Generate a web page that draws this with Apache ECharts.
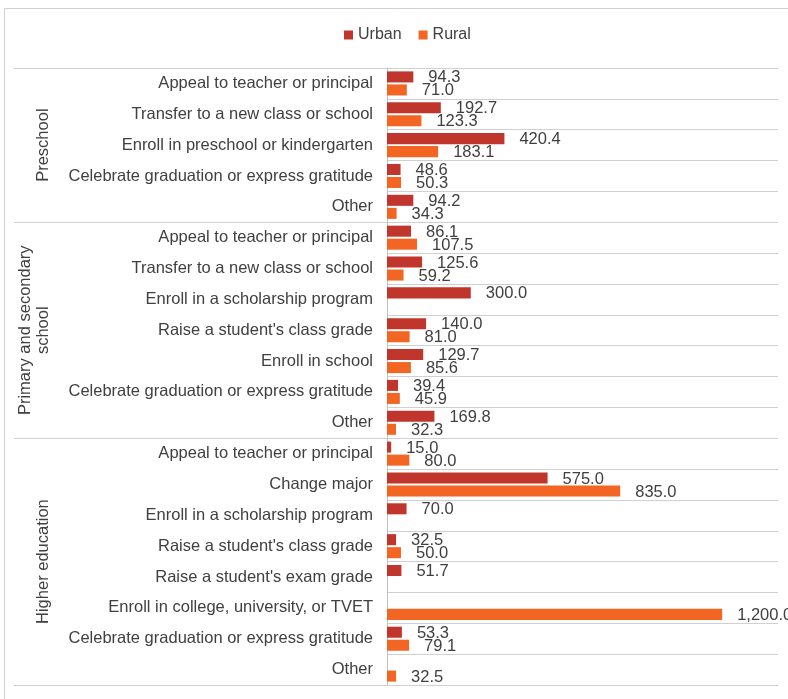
<!DOCTYPE html>
<html>
<head>
<meta charset="utf-8">
<title>Urban and Rural</title>
<script src="https://cdn.jsdelivr.net/npm/echarts@6/dist/echarts.min.js"></script>
<style>
  html, body { margin: 0; padding: 0; background: #ffffff; }
  #chart { width: 788px; height: 699px; }
</style>
</head>
<body>
<div id="chart"></div>
<script>
// Group names (outer level of the category axis)
const groupNames = ['Preschool', 'Primary and secondary\nschool', 'Higher education'];

// Categories per group (inner level)
const preschoolCats = [
  'Appeal to teacher or principal',
  'Transfer to a new class or school',
  'Enroll in preschool or kindergarten',
  'Celebrate graduation or express gratitude',
  'Other'
];
const schoolCats = [
  'Appeal to teacher or principal',
  'Transfer to a new class or school',
  'Enroll in a scholarship program',
  "Raise a student's class grade",
  'Enroll in school',
  'Celebrate graduation or express gratitude',
  'Other'
];
const higherCats = [
  'Appeal to teacher or principal',
  'Change major',
  'Enroll in a scholarship program',
  "Raise a student's class grade",
  "Raise a student's exam grade",
  'Enroll in college, university, or TVET',
  'Celebrate graduation or express gratitude',
  'Other'
];

// Values per group (null = no value reported)
const preschoolUrban = [94.3, 192.7, 420.4, 48.6, 94.2];
const preschoolRural = [71.0, 123.3, 183.1, 50.3, 34.3];
const schoolUrban = [86.1, 125.6, 300.0, 140.0, 129.7, 39.4, 169.8];
const schoolRural = [107.5, 59.2, null, 81.0, 85.6, 45.9, 32.3];
const higherUrban = [15.0, 575.0, 70.0, 32.5, 51.7, null, 53.3, null];
const higherRural = [80.0, 835.0, null, 50.0, null, 1200.0, 79.1, 32.5];

const seriesNames = ['Urban', 'Rural'];

// ---- build axis data ----
const groupCats = [preschoolCats, schoolCats, higherCats];
const categories = [];
const groupSpans = [];
groupCats.forEach(function (cats, g) {
  const start = categories.length;
  cats.forEach(function (c) { categories.push(g + '::' + c); });
  groupSpans.push([0, start, categories.length]);
});
const urban = [].concat(preschoolUrban, schoolUrban, higherUrban);
const rural = [].concat(preschoolRural, schoolRural, higherRural);

const FONT = '"Liberation Sans", Arial, sans-serif';
const TEXT = '#404040';
const LINE = '#d0d0d0';

function fmt(v) {
  return Number(v).toLocaleString('en-US', { minimumFractionDigits: 1, maximumFractionDigits: 1 });
}

const valueLabel = {
  show: true,
  position: 'right',
  distance: 15,
  offset: [0, 1],
  color: TEXT,
  fontFamily: FONT,
  fontSize: 16.5,
  formatter: function (p) { return fmt(p.value); }
};

const chart = echarts.init(document.getElementById('chart'), null, { renderer: 'canvas' });

chart.setOption({
  animation: false,
  backgroundColor: '#ffffff',
  graphic: [{
    type: 'rect',
    shape: { x: 4.5, y: 8.5, width: 820, height: 740 },
    style: { fill: null, stroke: '#d0d0d0', lineWidth: 1 },
    silent: true
  }],
  legend: {
    data: seriesNames,
    top: 27,
    left: 344,
    padding: 0,
    icon: 'rect',
    itemWidth: 9,
    itemHeight: 9,
    itemGap: 17,
    textStyle: { color: TEXT, fontFamily: FONT, fontSize: 16 }
  },
  grid: {
    left: 387,
    right: 10,
    top: 68,
    bottom: 14,
    outerBoundsMode: 'none'
  },
  xAxis: {
    type: 'value',
    min: 0,
    max: 1400,
    show: false
  },
  yAxis: {
    type: 'category',
    inverse: true,
    data: categories,
    axisLine: { show: true, lineStyle: { color: '#bfbfbf', width: 1 } },
    axisTick: { show: false },
    splitLine: { show: true, interval: 0, lineStyle: { color: LINE, width: 1 } },
    axisLabel: {
      interval: 0,
      margin: 14,
      color: TEXT,
      fontFamily: FONT,
      fontSize: 16.5,
      formatter: function (v) { return v.split('::')[1]; }
    }
  },
  series: [
    {
      name: seriesNames[0],
      type: 'bar',
      data: urban,
      barCategoryGap: '22%',
      barGap: '18%',
      itemStyle: { color: '#c0362c' },
      label: valueLabel
    },
    {
      name: seriesNames[1],
      type: 'bar',
      data: rural,
      barCategoryGap: '22%',
      barGap: '18%',
      itemStyle: { color: '#f26522' },
      label: valueLabel
    },
    {
      // outer-level group labels and group separators
      type: 'custom',
      clip: false,
      silent: true,
      data: groupSpans,
      renderItem: function (params, api) {
        const cs = params.coordSys;
        const band = api.size([0, 1])[1];
        const start = api.value(1);
        const end = api.value(2);
        const yTop = api.coord([0, start])[1] - band / 2;
        const yBot = api.coord([0, end - 1])[1] + band / 2;
        const left = cs.x - 373;
        const children = [
          {
            type: 'line',
            shape: { x1: left, y1: Math.round(yTop) + 0.5, x2: cs.x, y2: Math.round(yTop) + 0.5 },
            style: { stroke: LINE, lineWidth: 1 }
          },
          {
            // rotated label; its baseline side faces the inner labels
            type: 'text',
            x: cs.x - 335,
            y: (yTop + yBot) / 2,
            rotation: Math.PI / 2,
            style: {
              text: groupNames[params.dataIndex],
              align: 'center',
              verticalAlign: 'bottom',
              fill: TEXT,
              font: '16.5px ' + FONT,
              lineHeight: 18
            }
          }
        ];
        if (params.dataIndex === groupSpans.length - 1) {
          children.push({
            type: 'line',
            shape: { x1: left, y1: Math.round(yBot) + 0.5, x2: cs.x, y2: Math.round(yBot) + 0.5 },
            style: { stroke: LINE, lineWidth: 1 }
          });
        }
        return { type: 'group', children: children };
      }
    }
  ]
});
</script>
</body>
</html>
